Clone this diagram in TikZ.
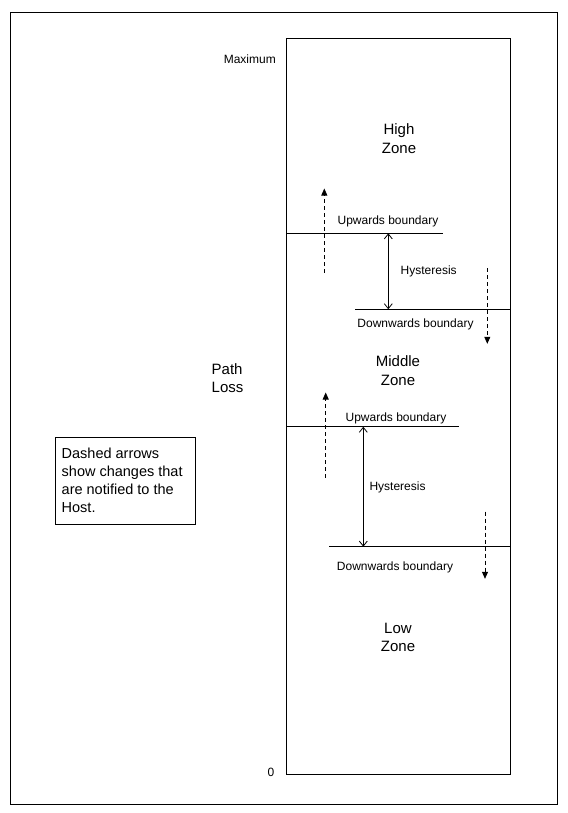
\documentclass[tikz,border=0pt]{standalone}
\usepackage{fontspec}
\setmainfont{Liberation Sans}
\usetikzlibrary{arrows.meta}
\begin{document}
\begin{tikzpicture}[x=1pt,y=-1pt,
  lbl/.style={inner sep=0pt,font=\fontsize{12}{14}\selectfont},
  zone/.style={inner sep=0pt,align=center,font=\fontsize{15}{18.5}\selectfont},
  bline/.style={line width=0.9pt},
  notify/.style={line width=0.8pt,dash pattern=on 4pt off 3pt,-{Triangle[length=7pt,width=6pt]}},
  hyst/.style={line width=0.8pt,{Straight Barb[length=5pt,width=8pt]}-{Straight Barb[length=5pt,width=8pt]}},
  frame/.style={line width=1pt}]
\useasboundingbox (0,0) rectangle (567,813);
\node[draw,frame,minimum width=547pt,minimum height=791pt,inner sep=0pt] (outer) at (283.5,408.5) {};
\node[draw,frame,minimum width=224pt,minimum height=735pt,inner sep=0pt] (col) at (398.5,406.5) {};
\node[lbl,anchor=east] (max) at (276,59.5) {Maximum};
\node[lbl] (zero) at (271,772) {0};
\node[zone] (high) at (399,138.5) {High\\Zone};
\node[zone] (mid) at (398,370.5) {Middle\\Zone};
\node[zone] (low) at (398,637.5) {Low\\Zone};
\node[zone,align=left,anchor=west] (pl) at (211.5,378) {Path\\Loss};
\node[draw,line width=0.8pt,minimum width=139.5pt,minimum height=86.5pt,inner sep=0pt] (box) at (125.5,481) {};
\node[inner sep=0pt,align=left,anchor=north west,font=\fontsize{14.5}{18}\selectfont] (note) at (61.5,447.5) {Dashed arrows\\show changes that\\are notified to the\\Host.};
% first boundary pair
\coordinate (u1a) at (286,233.3);
\coordinate (u1b) at (442.7,233.3);
\coordinate (h1a) at (388.3,233.3);
\coordinate (h1b) at (388.3,309.3);
\coordinate (d1a) at (355,309.3);
\coordinate (d1b) at (511,309.3);
\coordinate (up1s) at (324.3,272.7);
\coordinate (up1e) at (324.3,188.5);
\coordinate (dn1s) at (487.3,268.3);
\coordinate (dn1e) at (487.3,343.8);
\draw[bline] (u1a) -- (u1b);
\draw[bline] (d1a) -- (d1b);
\draw[hyst] (h1a) -- (h1b);
\draw[notify] (up1s) -- (up1e);
\draw[notify] (dn1s) -- (dn1e);
\node[lbl] (ub1) at (388,221.5) {Upwards boundary};
\node[lbl,anchor=west] (hy1) at (400.5,271.5) {Hysteresis};
\node[lbl] (db1) at (415.5,324.5) {Downwards boundary};
% second boundary pair
\coordinate (u2a) at (286,426.7);
\coordinate (u2b) at (459,426.7);
\coordinate (h2a) at (363.3,426.7);
\coordinate (h2b) at (363.3,546.7);
\coordinate (d2a) at (329.3,546.7);
\coordinate (d2b) at (511,546.7);
\coordinate (up2s) at (325.7,477.7);
\coordinate (up2e) at (325.7,392.5);
\coordinate (dn2s) at (485,511.7);
\coordinate (dn2e) at (485,578.8);
\draw[bline] (u2a) -- (u2b);
\draw[bline] (d2a) -- (d2b);
\draw[hyst] (h2a) -- (h2b);
\draw[notify] (up2s) -- (up2e);
\draw[notify] (dn2s) -- (dn2e);
\node[lbl] (ub2) at (396,418) {Upwards boundary};
\node[lbl,anchor=west] (hy2) at (369.3,487.2) {Hysteresis};
\node[lbl] (db2) at (395,567.5) {Downwards boundary};
\end{tikzpicture}
\end{document}
